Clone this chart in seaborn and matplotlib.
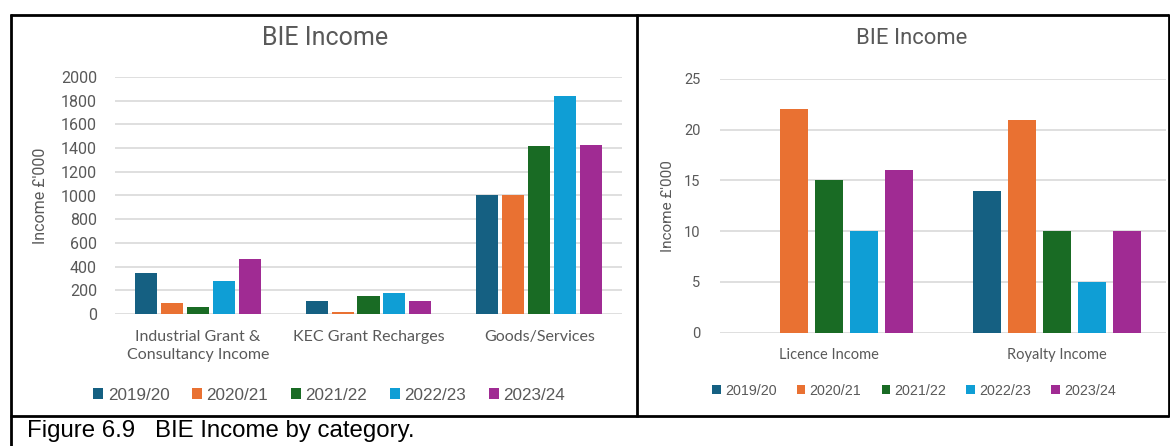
import numpy as np
import pandas as pd
import matplotlib
matplotlib.use("Agg")
import matplotlib.pyplot as plt
from matplotlib.lines import Line2D
import seaborn as sns

# ---- data -------------------------------------------------------------
years = ["2019/20", "2020/21", "2021/22", "2022/23", "2023/24"]
colors = ["#156082", "#E97132", "#196B24", "#0F9ED5", "#A02B93"]

left_categories = ["Industrial Grant &\nConsultancy Income",
                   "KEC Grant Recharges", "Goods/Services"]
industrial = [350, 90, 55, 275, 465]
kec = [110, 15, 155, 178, 110]
goods = [1000, 1000, 1420, 1840, 1430]
left_ticks = [0, 200, 400, 600, 800, 1000, 1200, 1400, 1600, 1800, 2000]

right_categories = ["Licence Income", "Royalty Income"]
licence = [0, 22, 15, 10, 16]
royalty = [14, 21, 10, 5, 10]
right_ticks = [0, 5, 10, 15, 20, 25]

title = "BIE Income"
ylabel = "Income £'000"
caption = "Figure 6.9   BIE Income by category."


def long_frame(categories, series):
    rows = []
    for cat, vals in zip(categories, series):
        for yr, v in zip(years, vals):
            rows.append({"category": cat, "year": yr, "value": v})
    return pd.DataFrame(rows)


left_df = long_frame(left_categories, [industrial, kec, goods])
right_df = long_frame(right_categories, [licence, royalty])

# ---- figure -----------------------------------------------------------
sns.set_theme(style="white")
W, H = 1170, 446
fig = plt.figure(figsize=(W / 100, H / 100), dpi=100)
fig.patch.set_facecolor("white")

TXT = "#595959"
GRID = "#D9D9D9"


def px_axes(x0, x1, ytop, ybot):
    return fig.add_axes([x0 / W, 1 - ybot / H, (x1 - x0) / W, (ybot - ytop) / H])


def style_axes(ax, ticks, tick_fs, pad_y, cat_fs, cat_pad):
    ax.set_yticks(ticks)
    ax.set_ylim(ticks[0], ticks[-1])
    ax.yaxis.grid(True, color=GRID, linewidth=1.2)
    ax.set_axisbelow(True)
    for s in ax.spines.values():
        s.set_visible(False)
    ax.tick_params(axis="both", length=0)
    ax.tick_params(axis="y", pad=pad_y, labelsize=tick_fs, labelcolor=TXT)
    ax.tick_params(axis="x", pad=cat_pad, labelsize=cat_fs, labelcolor=TXT)
    for lab in ax.get_yticklabels():
        lab.set_fontfamily("Roboto")
    for lab in ax.get_xticklabels():
        lab.set_fontfamily("Lato")
        lab.set_linespacing(1.4)
    ax.set_xlabel("")
    ax.set_ylabel("")
    if ax.get_legend() is not None:
        ax.get_legend().remove()


# left chart
axL = px_axes(115, 622, 77, 314)
sns.barplot(data=left_df, x="category", y="value", hue="year",
            hue_order=years, palette=colors, width=0.76, gap=0.15,
            linewidth=0, saturation=1, ax=axL)
axL.set_xlim(-0.485, 2.485)
style_axes(axL, left_ticks, 11.5, 13, 11.5, 11.5)

# right chart
axR = px_axes(720, 1166, 79, 332.5)
sns.barplot(data=right_df, x="category", y="value", hue="year",
            hue_order=years, palette=colors, width=0.77, gap=0.2,
            linewidth=0, saturation=1, ax=axR)
axR.set_xlim(-0.48, 1.48)
style_axes(axR, right_ticks, 10.5, 14, 10.5, 11.5)

# titles and axis labels
fig.text(325 / W, 1 - 38 / H, title, ha="center", va="center",
         fontsize=18, color=TXT, family="Roboto")
fig.text(912 / W, 1 - 39 / H, title, ha="center", va="center",
         fontsize=15.8, color=TXT, family="Roboto")
fig.text(40.5 / W, 1 - 196 / H, ylabel, ha="center", va="center",
         rotation=90, fontsize=11.5, color=TXT, family="Roboto")
fig.text(668 / W, 1 - 206 / H, ylabel, ha="center", va="center",
         rotation=90, fontsize=11, color=TXT, family="Roboto")

# legends
handles_L, labels_L = axL.get_legend_handles_labels()
legL = fig.legend(handles_L, years, loc="center", ncol=5,
                  bbox_to_anchor=(329 / W, 1 - 395 / H), frameon=False,
                  handlelength=0.6, handleheight=0.6, handletextpad=0.25,
                  columnspacing=1.32, borderpad=0,
                  prop={"family": "Liberation Sans", "size": 12.3})
for t in legL.get_texts():
    t.set_color(TXT)

handles_R, labels_R = axR.get_legend_handles_labels()
legR = fig.legend(handles_R, years, loc="center", ncol=5,
                  bbox_to_anchor=(914 / W, 1 - 391 / H), frameon=False,
                  handlelength=0.6, handleheight=0.6, handletextpad=0.3,
                  columnspacing=1.4, borderpad=0,
                  prop={"family": "Liberation Sans", "size": 10.3})
for t in legR.get_texts():
    t.set_color(TXT)

# table frame around the two charts and the caption
def fig_line(x0, y0, x1, y1, lw=2.0):
    fig.add_artist(Line2D([x0 / W, x1 / W], [1 - y0 / H, 1 - y1 / H],
                          color="black", linewidth=lw,
                          solid_capstyle="butt"))

fig_line(10, 15, 1169, 15)
fig_line(10, 415.5, 1169, 415.5)
fig_line(10.5, 14, 10.5, 446)
fig_line(637, 14, 637, 416.5)
fig_line(1168.5, 14, 1168.5, 416.5)

fig.text(27 / W, 1 - 431 / H, caption, ha="left", va="center",
         fontsize=17.3, color="black", family="Liberation Sans")

fig.savefig("out.png", dpi=100, facecolor="white")
